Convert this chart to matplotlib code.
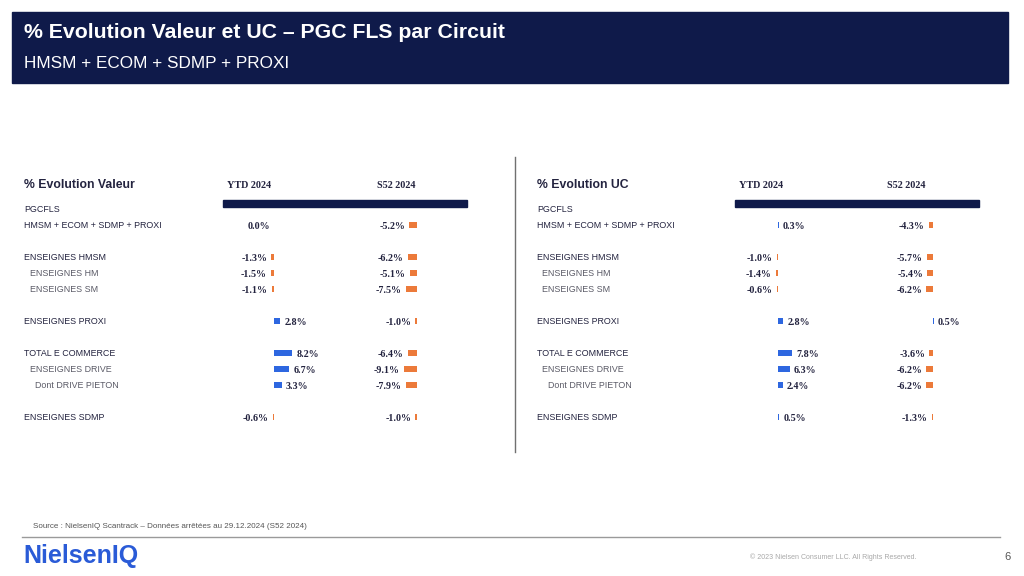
import matplotlib.pyplot as plt
from matplotlib.patches import Rectangle

plt.rcParams["font.family"] = ["Liberation Sans", "DejaVu Sans"]

# data
row_labels = ["HMSM + ECOM + SDMP + PROXI", "ENSEIGNES HMSM", "ENSEIGNES HM", "ENSEIGNES SM",
              "ENSEIGNES PROXI", "TOTAL E COMMERCE", "ENSEIGNES DRIVE", "Dont DRIVE PIETON",
              "ENSEIGNES SDMP"]
row_indent = [0, 0, 1, 1, 0, 0, 1, 2, 0]
row_slot = [0, 2, 3, 4, 6, 8, 9, 10, 12]

valeur_ytd = [0.0, -1.3, -1.5, -1.1, 2.8, 8.2, 6.7, 3.3, -0.6]
valeur_s52 = [-5.2, -6.2, -5.1, -7.5, -1.0, -6.4, -9.1, -7.9, -1.0]
uc_ytd = [0.3, -1.0, -1.4, -0.6, 2.8, 7.8, 6.3, 2.4, 0.5]
uc_s52 = [-4.3, -5.7, -5.4, -6.2, 0.5, -3.6, -6.2, -6.2, -1.3]

col_titles = ["YTD 2024", "S52 2024"]

NAVY = "#0f1a4a"
TXT = "#23233f"
GREY_TXT = "#5a5a66"
BLUE = "#2e67e0"
ORANGE = "#ec7a3a"

W, H = 1024, 576
fig = plt.figure(figsize=(W / 100, H / 100), dpi=100)
base = fig.add_axes([0, 0, 1, 1])
base.set_xlim(0, W)
base.set_ylim(H, 0)
base.axis("off")

# header band
base.add_patch(Rectangle((12, 12), 996, 71, color=NAVY, zorder=0))
base.text(24, 33, "% Evolution Valeur et UC – PGC FLS par Circuit", color="white",
          fontsize=15.3, fontweight="bold", va="center")
base.text(24, 64, "HMSM + ECOM + SDMP + PROXI", color="white", fontsize=12.3, va="center")

row_y = [225 + 16 * s for s in row_slot]


def panel(x0, title, col_centers, band):
    base.text(x0, 185, title, fontsize=8.8, fontweight="bold", color=TXT, va="center")
    for cx, t in zip(col_centers, col_titles):
        base.text(cx, 185, t, fontsize=7.3, fontweight="bold", color=TXT, ha="center",
                  va="center", family=["Liberation Serif"])
    base.add_patch(Rectangle((band[0], 200), band[1] - band[0], 7, color=NAVY))
    base.text(x0, 209, "PGCFLS", fontsize=6.4, color=TXT, va="center")
    for lab, ind, y in zip(row_labels, row_indent, row_y):
        base.text(x0 + 5.5 * ind, y, lab, fontsize=6.4, va="center",
                  color=TXT if ind == 0 else GREY_TXT)


def bar_column(values, zero_px, px_per_pct):
    left, width = zero_px - 70, 140
    ax = fig.add_axes([left / W, 0, width / W, 1])
    ax.set_ylim(H, 0)
    ax.set_xlim((left - zero_px) / px_per_pct, (left + width - zero_px) / px_per_pct)
    ax.axis("off")
    colors = [BLUE if v > 0 else ORANGE for v in values]
    ax.barh(row_y, values, height=6, color=colors, linewidth=0)
    for v, y in zip(values, row_y):
        pos = v > 0
        ax.annotate(f"{v:.1f}%", (v, y), xytext=(3 if pos else -3, -1), textcoords="offset points",
                    ha="left" if pos else "right", va="center", fontsize=7.2, fontweight="bold",
                    color=TXT, family=["Liberation Serif"])


panel(24, "% Evolution Valeur", [249, 396], (223, 467))
panel(537, "% Evolution UC", [761, 906], (735, 979))

bar_column(valeur_ytd, 274.3, 2.2)
bar_column(valeur_s52, 416.7, 1.4)
bar_column(uc_ytd, 778.3, 1.8)
bar_column(uc_s52, 933.3, 1.1)

# divider
base.plot([515, 515], [157, 452], color="#707070", lw=1)

# footer
base.text(33, 527, "Source : NielsenIQ Scantrack – Données arrêtées au 29.12.2024 (S52 2024)",
          fontsize=5.8, color="#555555", va="center")
base.plot([22, 1000], [537, 537], color="#9a9a9a", lw=1)
base.text(23, 556, "NielsenIQ", fontsize=18, fontweight="bold", color="#2a5bd7", va="center")
base.text(916, 557, "© 2023 Nielsen Consumer LLC. All Rights Reserved.", fontsize=5,
          color="#a8a8a8", ha="right", va="center")
base.text(1004, 557, "6", fontsize=8, color="#555555", va="center")

fig.savefig("out.png", dpi=100)
